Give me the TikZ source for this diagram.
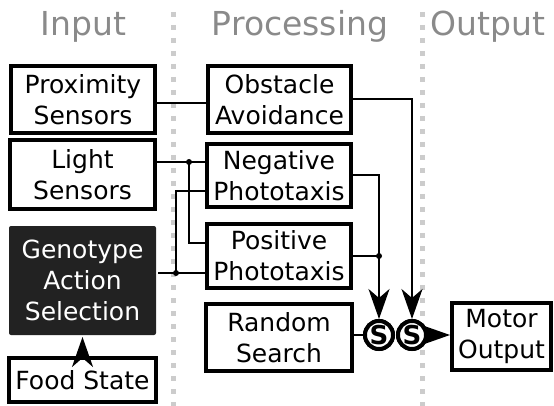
\documentclass[tikz,border=0pt]{standalone}
\usepackage{fontspec}
\setmainfont{DejaVu Sans}
\usepackage{tikz}
\usetikzlibrary{positioning,arrows.meta,calc}
\definecolor{headgray}{HTML}{8A8A8A}
\definecolor{sepgray}{HTML}{CCCCCC}
\definecolor{genofill}{HTML}{222222}

\begin{document}
\begin{tikzpicture}[x=1pt,y=-1pt,
    blockbox/.style={draw,line width=4pt,align=center,inner sep=0pt,
      font=\fontsize{25}{31}\selectfont},
    wire/.style={line width=2pt},
    feed/.style={line width=2pt,-{Stealth[length=30pt,width=21pt,inset=9pt]}},
    sumnode/.style={circle,draw,fill=white,line width=4pt,minimum size=28pt,
      inner sep=0pt,font=\fontsize{26}{26}\selectfont\bfseries}]
  \useasboundingbox (0,0) rectangle (554,406);
  % column heads and separators
  \foreach \hname/\hx in {Input/83.5,Processing/300,Output/488}
    \node[headgray,anchor=base,font=\fontsize{33}{33}\selectfont] (head\hname) at (\hx,36) {\hname};
  \foreach \sx in {173,422}
    \draw[sepgray,line width=5pt,dash pattern=on 5pt off 8pt] (\sx,12) -- (\sx,406);
  % blocks: name/x/y/width/height/text
  \foreach \bname/\bx/\by/\bw/\bh/\btext in {
      prox/83/99.5/144/67/Proximity\\Sensors,
      obst/279.5/99.5/143/67/Obstacle\\Avoidance,
      light/82.5/174.5/145/69/Light\\Sensors,
      neg/279/175.5/144/63/Negative\\Phototaxis,
      pos/279/256/144/64/Positive\\Phototaxis,
      rand/279/337.5/146/67/Random\\Search,
      food/82.5/380/147/44/Food State,
      motor/501.5/336.5/99/67/Motor\\Output} {
    \node[blockbox,minimum width=\bw pt,minimum height=\bh pt] (\bname) at (\bx,\by) {\btext};
  }
  \node[blockbox,draw=none,fill=genofill,text=white,rounded corners=2pt,
    minimum width=147pt,minimum height=109pt] (geno) at (82.5,280.5) {Genotype\\Action\\Selection};
  \node[sumnode] (sumA) at (379,335) {S};
  \node[sumnode] (sumB) at (412,335) {S};
  % junctions
  \coordinate (lightdot) at (189,162);
  \coordinate (genodot) at (176,273);
  \coordinate (posupper) at (205,243);
  \coordinate (negupper) at (205,191);
  \draw[wire] ([yshift=-3.5pt]prox.east) -- ([yshift=-3.5pt]obst.west);
  \draw[wire] (lightdot -| light.east) -- (lightdot -| neg.west);
  \draw[wire] (lightdot) |- (posupper -| pos.west);
  \draw[wire] (genodot -| geno.east) -- (genodot -| pos.west);
  \draw[wire] (genodot) |- (negupper -| neg.west);
  \fill (lightdot) circle (3pt);
  \fill (genodot) circle (3pt);
  \draw[wire] (pos.east) -- (pos.east -| sumA);
  \fill (pos.east -| sumA) circle (3pt);
  \draw[feed] (neg.east) -| (sumA.north);
  \draw[feed] (obst.east) -| (sumB.north);
  \draw[wire] (rand.east |- sumA) -- (sumA.west);
  \draw[feed] (sumB.east) -- (sumB.east -| motor.west);
  \draw[feed] (food.north) -- (geno.south);
  \node[sumnode] at (sumA) {S};
  \node[sumnode] at (sumB) {S};
\end{tikzpicture}
\end{document}
